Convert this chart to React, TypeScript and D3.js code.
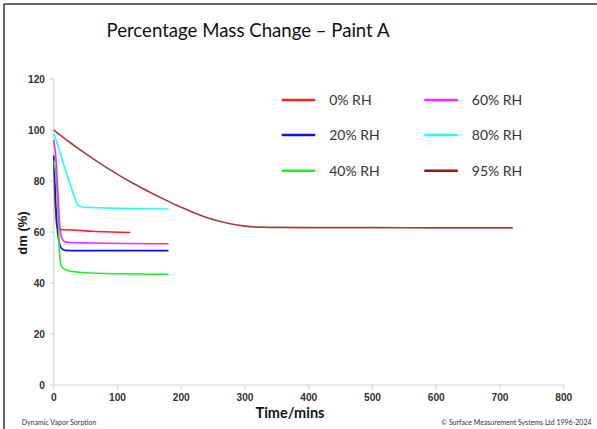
import React from "react";
import * as d3 from "d3";

type Pt = [number, number];

const seriesNames = ["0% RH", "20% RH", "40% RH", "60% RH", "80% RH", "95% RH"];
const seriesColors = ["#ff2020", "#1010ee", "#22ee22", "#ff22ff", "#22ffff", "#a83a3a"];
const legendColors = ["#ff2020", "#1010ee", "#22ee22", "#ff22ff", "#22ffff", "#8b1a1a"];

const rh0: Pt[] = [[0, 88], [2, 72], [4, 64], [6, 61.5], [10, 61], [30, 60.8], [60, 60.3], [90, 60], [120, 59.8]];
const rh20: Pt[] = [[0, 90], [3, 72], [6, 60], [9, 55.5], [12, 53.6], [18, 52.8], [40, 52.7], [100, 52.7], [180, 52.7]];
const rh40: Pt[] = [[0, 88], [4, 80], [7, 65], [9, 52], [12, 46.5], [20, 45], [40, 44.2], [80, 43.7], [180, 43.4]];
const rh60: Pt[] = [[0, 96], [3, 90], [6, 78], [9, 64], [12, 58], [16, 56.4], [25, 55.9], [60, 55.7], [180, 55.4]];
const rh80: Pt[] = [[0, 98.5], [5, 95], [10, 91], [20, 83], [30, 75.5], [38, 70.5], [45, 69.8], [60, 69.6], [100, 69.3], [140, 69.1], [180, 69.0]];
const rh95: Pt[] = [[0, 100], [25, 95.2], [50, 90.7], [75, 86.5], [100, 82.6], [125, 79.0], [150, 75.7], [175, 72.6], [200, 69.7], [225, 67.1], [250, 64.9], [275, 63.3], [300, 62.3], [325, 61.9], [350, 61.8], [400, 61.7], [500, 61.7], [600, 61.6], [720, 61.6]];

const seriesData = [rh0, rh20, rh40, rh60, rh80, rh95];

const xTicks = [0, 100, 200, 300, 400, 500, 600, 700, 800];
const yTicks = [0, 20, 40, 60, 80, 100, 120];

const title = "Percentage Mass Change \u2013 Paint A";
const xTitle = "Time/mins";
const yTitle = "dm (%)";
const footLeft = "Dynamic Vapor Sorption";
const footRight = "\u00a9 Surface Measurement Systems Ltd 1996-2024";

export default function App() {
  const W = 597, H = 429;
  const x = d3.scaleLinear().domain([0, 800]).range([53.75, 563.75]);
  const y = d3.scaleLinear().domain([0, 120]).range([385, 79]);
  const line = d3.line<Pt>().x(d => x(d[0])).y(d => y(d[1])).curve(d3.curveMonotoneX);
  const axisColor = "#d4d4d4";
  const tickFont = "'Liberation Sans', Arial, sans-serif";
  const textFont = "Lato, 'Open Sans', sans-serif";

  const legendPos = [
    [281.7, 100], [281.7, 135], [281.7, 170.7],
    [424.3, 100], [424.3, 135], [424.3, 170.7],
  ];

  return (
    <svg width={W} height={H} style={{ position: "absolute", left: 0, top: 0, background: "#fff" }}>
      <rect x={0} y={0} width={W} height={H} fill="#fff" />
      <line x1={4} y1={4} x2={W} y2={4} stroke="#333" strokeWidth={1.5} />
      <line x1={4} y1={4} x2={4} y2={H} stroke="#333" strokeWidth={1.5} />

      <text x={248} y={37} textAnchor="middle" fontFamily={textFont} fontSize={18.6} fill="#111">{title}</text>

      {/* axes */}
      <line x1={x(0)} y1={y(0)} x2={x(800)} y2={y(0)} stroke={axisColor} strokeWidth={1.2} />
      <line x1={x(0)} y1={y(0)} x2={x(0)} y2={y(120)} stroke={axisColor} strokeWidth={1.2} />
      {xTicks.map(t => (
        <g key={"x" + t}>
          <line x1={x(t)} x2={x(t)} y1={y(0)} y2={y(0) + 4} stroke={axisColor} strokeWidth={1.2} />
          <text x={x(t)} y={400.5} textAnchor="middle" fontFamily={tickFont} fontWeight="bold" fontSize={10.2} fill="#333">{t}</text>
        </g>
      ))}
      {yTicks.map(t => (
        <g key={"y" + t}>
          <line x1={x(0) - 4} x2={x(0)} y1={y(t)} y2={y(t)} stroke={axisColor} strokeWidth={1.2} />
          <text x={45} y={y(t) + 3.7} textAnchor="end" fontFamily={tickFont} fontWeight="bold" fontSize={10.2} fill="#333">{t}</text>
        </g>
      ))}

      <text x={290} y={418} textAnchor="middle" fontFamily={textFont} fontWeight="bold" fontSize={14.5} fill="#111">{xTitle}</text>
      <text transform="translate(27,233) rotate(-90)" textAnchor="middle" fontFamily={tickFont} fontWeight="bold" fontSize={13} fill="#111">{yTitle}</text>

      {/* series */}
      {seriesData.map((d, i) => (
        <path key={seriesNames[i]} d={line(d) || ""} fill="none" stroke={seriesColors[i]} strokeWidth={1.6} />
      ))}

      {/* legend */}
      {seriesNames.map((n, i) => (
        <g key={"l" + n}>
          <line x1={legendPos[i][0]} x2={legendPos[i][0] + 33.5} y1={legendPos[i][1]} y2={legendPos[i][1]} stroke={legendColors[i]} strokeWidth={2.5} />
          <text x={legendPos[i][0] + 47.5} y={legendPos[i][1] + 5} fontFamily={textFont} fontSize={14} fill="#333">{n}</text>
        </g>
      ))}

      <text x={21.7} y={425} fontFamily={textFont} fontSize={7} fill="#333">{footLeft}</text>
      <text x={591.5} y={425} textAnchor="end" fontFamily={textFont} fontSize={7} fill="#333">{footRight}</text>
    </svg>
  );
}
